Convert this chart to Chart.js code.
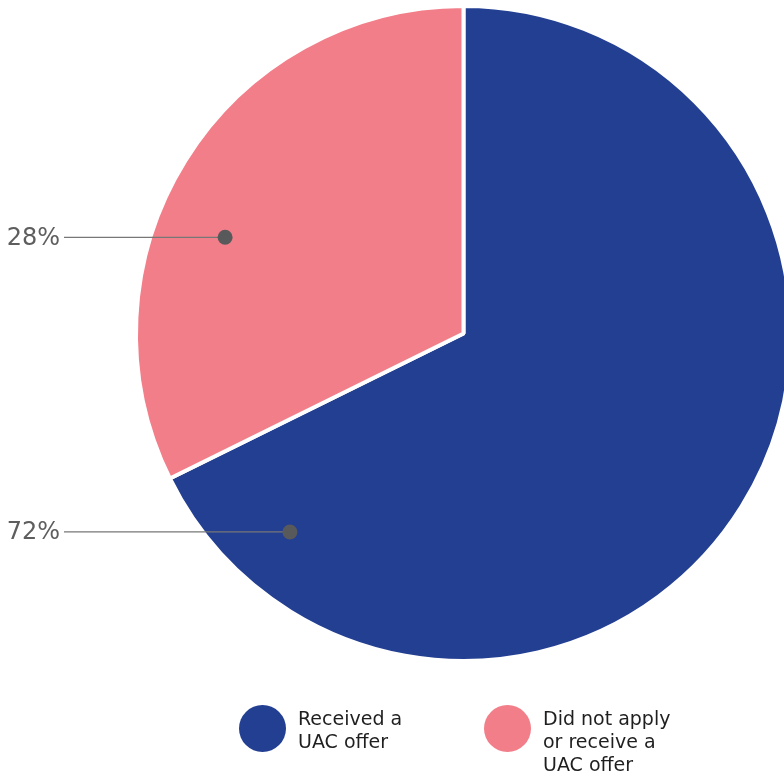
<!DOCTYPE html>
<html>
<head>
<meta charset="utf-8">
<script src="https://cdn.jsdelivr.net/npm/chart.js@4"></script>
<style>
  html, body { margin: 0; padding: 0; background: #fff; overflow: hidden; }
  body { width: 784px; height: 775px; position: relative; font-family: "DejaVu Sans", sans-serif; }
  #wrap { position: absolute; left: 0; top: 0; width: 800px; height: 775px; }
  .leg { position: absolute; top: 705px; display: flex; align-items: flex-start; }
  .dot { width: 47px; height: 47px; border-radius: 50%; flex: none; }
  .txt { margin-left: 12px; margin-top: 2px; font-size: 19px; line-height: 23px; color: #1f1f1f; }
</style>
</head>
<body>
<div id="wrap"><canvas id="pieChart"></canvas></div>
<div class="leg" id="leg0" style="left:239px"></div>
<div class="leg" id="leg1" style="left:484px"></div>
<script>
// data
const categories = ['Received a UAC offer', 'Did not apply or receive a UAC offer'];
const legendLines = [['Received a', 'UAC offer'], ['Did not apply', 'or receive a', 'UAC offer']];
const shares = [67.7, 32.3];
const shareLabels = ['72%', '28%'];
const colors = ['#233f92', '#f27e89'];

// where each callout dot sits inside its slice (fraction of the sweep, fraction of radius)
const calloutSpots = [[0.9075, 0.805], [0.415, 0.785]];

const callouts = {
  id: 'callouts',
  afterDatasetsDraw(chart) {
    const ctx = chart.ctx;
    const arcs = chart.getDatasetMeta(0).data;
    arcs.forEach((arc, i) => {
      const { x, y, startAngle, endAngle, outerRadius } = arc.getProps(['x', 'y', 'startAngle', 'endAngle', 'outerRadius'], true);
      const a = startAngle + calloutSpots[i][0] * (endAngle - startAngle);
      const r = outerRadius * calloutSpots[i][1];
      const px = x + Math.cos(a) * r;
      const py = y + Math.sin(a) * r;
      ctx.save();
      ctx.strokeStyle = '#777';
      ctx.lineWidth = 1.3;
      ctx.beginPath();
      ctx.moveTo(64, py);
      ctx.lineTo(px, py);
      ctx.stroke();
      ctx.fillStyle = '#58595b';
      ctx.beginPath();
      ctx.arc(px, py, 7.5, 0, Math.PI * 2);
      ctx.fill();
      ctx.fillStyle = '#5e5e5e';
      ctx.font = '24px "DejaVu Sans"';
      ctx.textAlign = 'right';
      ctx.textBaseline = 'middle';
      ctx.fillText(shareLabels[i], 60, py + 1);
      ctx.restore();
    });
  }
};

new Chart(document.getElementById('pieChart'), {
  type: 'pie',
  data: {
    labels: categories,
    datasets: [{
      data: shares,
      backgroundColor: colors,
      borderColor: '#fff',
      borderWidth: 4,
      hoverOffset: 0
    }]
  },
  options: {
    responsive: true,
    maintainAspectRatio: false,
    animation: false,
    layout: { padding: { left: 134, top: 4, right: 7, bottom: 112 } },
    plugins: {
      legend: { display: false },
      tooltip: { enabled: false }
    }
  },
  plugins: [callouts]
});

legendLines.forEach((lines, i) => {
  const el = document.getElementById('leg' + i);
  el.innerHTML = '<div class="dot" style="background:' + colors[i] + '"></div><div class="txt">' + lines.join('<br>') + '</div>';
});
</script>
</body>
</html>
